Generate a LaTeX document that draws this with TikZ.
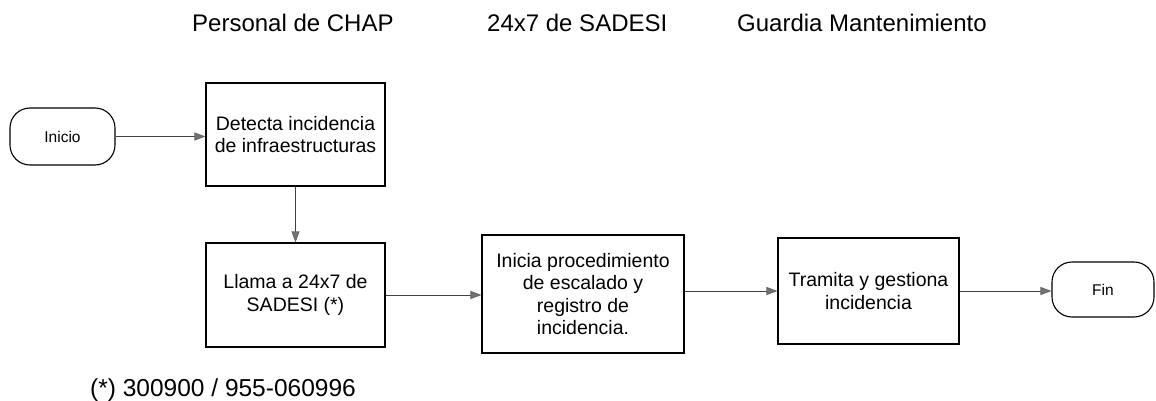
\documentclass[tikz,border=0pt]{standalone}
\usepackage{fontspec}
\setmainfont{Liberation Sans}
\usetikzlibrary{arrows.meta}
\begin{document}
\begin{tikzpicture}[x=1pt,y=-1pt,
  proc/.style={draw=black, line width=1.1pt, rectangle, align=center, inner sep=0pt,
    font=\fontsize{19.5}{22.5}\selectfont},
  term/.style={draw=black, line width=1.1pt, rectangle, rounded corners=20pt, align=center,
    inner sep=0pt, font=\fontsize{15.5}{18}\selectfont},
  conn/.style={draw=black!75, line width=0.9pt,
    -{Triangle[length=11pt,width=8pt,color=black!60,fill=black!55]}},
  head/.style={font=\fontsize{24}{28}\selectfont, anchor=base west, inner sep=0pt}]
\useasboundingbox (0,0) rectangle (1156,401);

% column headers
\node[head] (h1) at (192,32) {Personal de CHAP};
\node[head] (h2) at (487,32) {24x7 de SADESI};
\node[head] (h3) at (737,32) {Guardia Mantenimiento};

% nodes
\node[term, minimum width=105pt, minimum height=57pt] (inicio) at (62.5,136.5) {Inicio};
\node[proc, minimum width=179pt, minimum height=103pt] (detecta) at (295.5,134.5)
  {Detecta incidencia\\de infraestructuras};
\node[proc, minimum width=179pt, minimum height=104pt] (llama) at (295.5,295)
  {Llama a 24x7 de\\SADESI (*)};
\node[proc, minimum width=202pt, minimum height=118pt] (inicia) at (583,294)
  {Inicia procedimiento\\de escalado y\\registro de\\incidencia.};
\node[proc, minimum width=181pt, minimum height=106pt] (tramita) at (868.5,291)
  {Tramita y gestiona\\incidencia};
\node[term, minimum width=102pt, minimum height=55pt] (fin) at (1103,289.5) {Fin};

% connectors
\draw[conn] (inicio.east) -- (inicio.east -| detecta.west);
\draw[conn] (detecta.south) -- (llama.north);
\draw[conn] (llama.east) -- (llama.east -| inicia.west);
\draw[conn] (inicia.east |- tramita.west) -- (tramita.west);
\draw[conn] (tramita.east) -- (tramita.east -| fin.west);

% footnote
\node[head, font=\fontsize{24.5}{28}\selectfont] (nota) at (90,396) {(*) 300900 / 955-060996};
\end{tikzpicture}
\end{document}
